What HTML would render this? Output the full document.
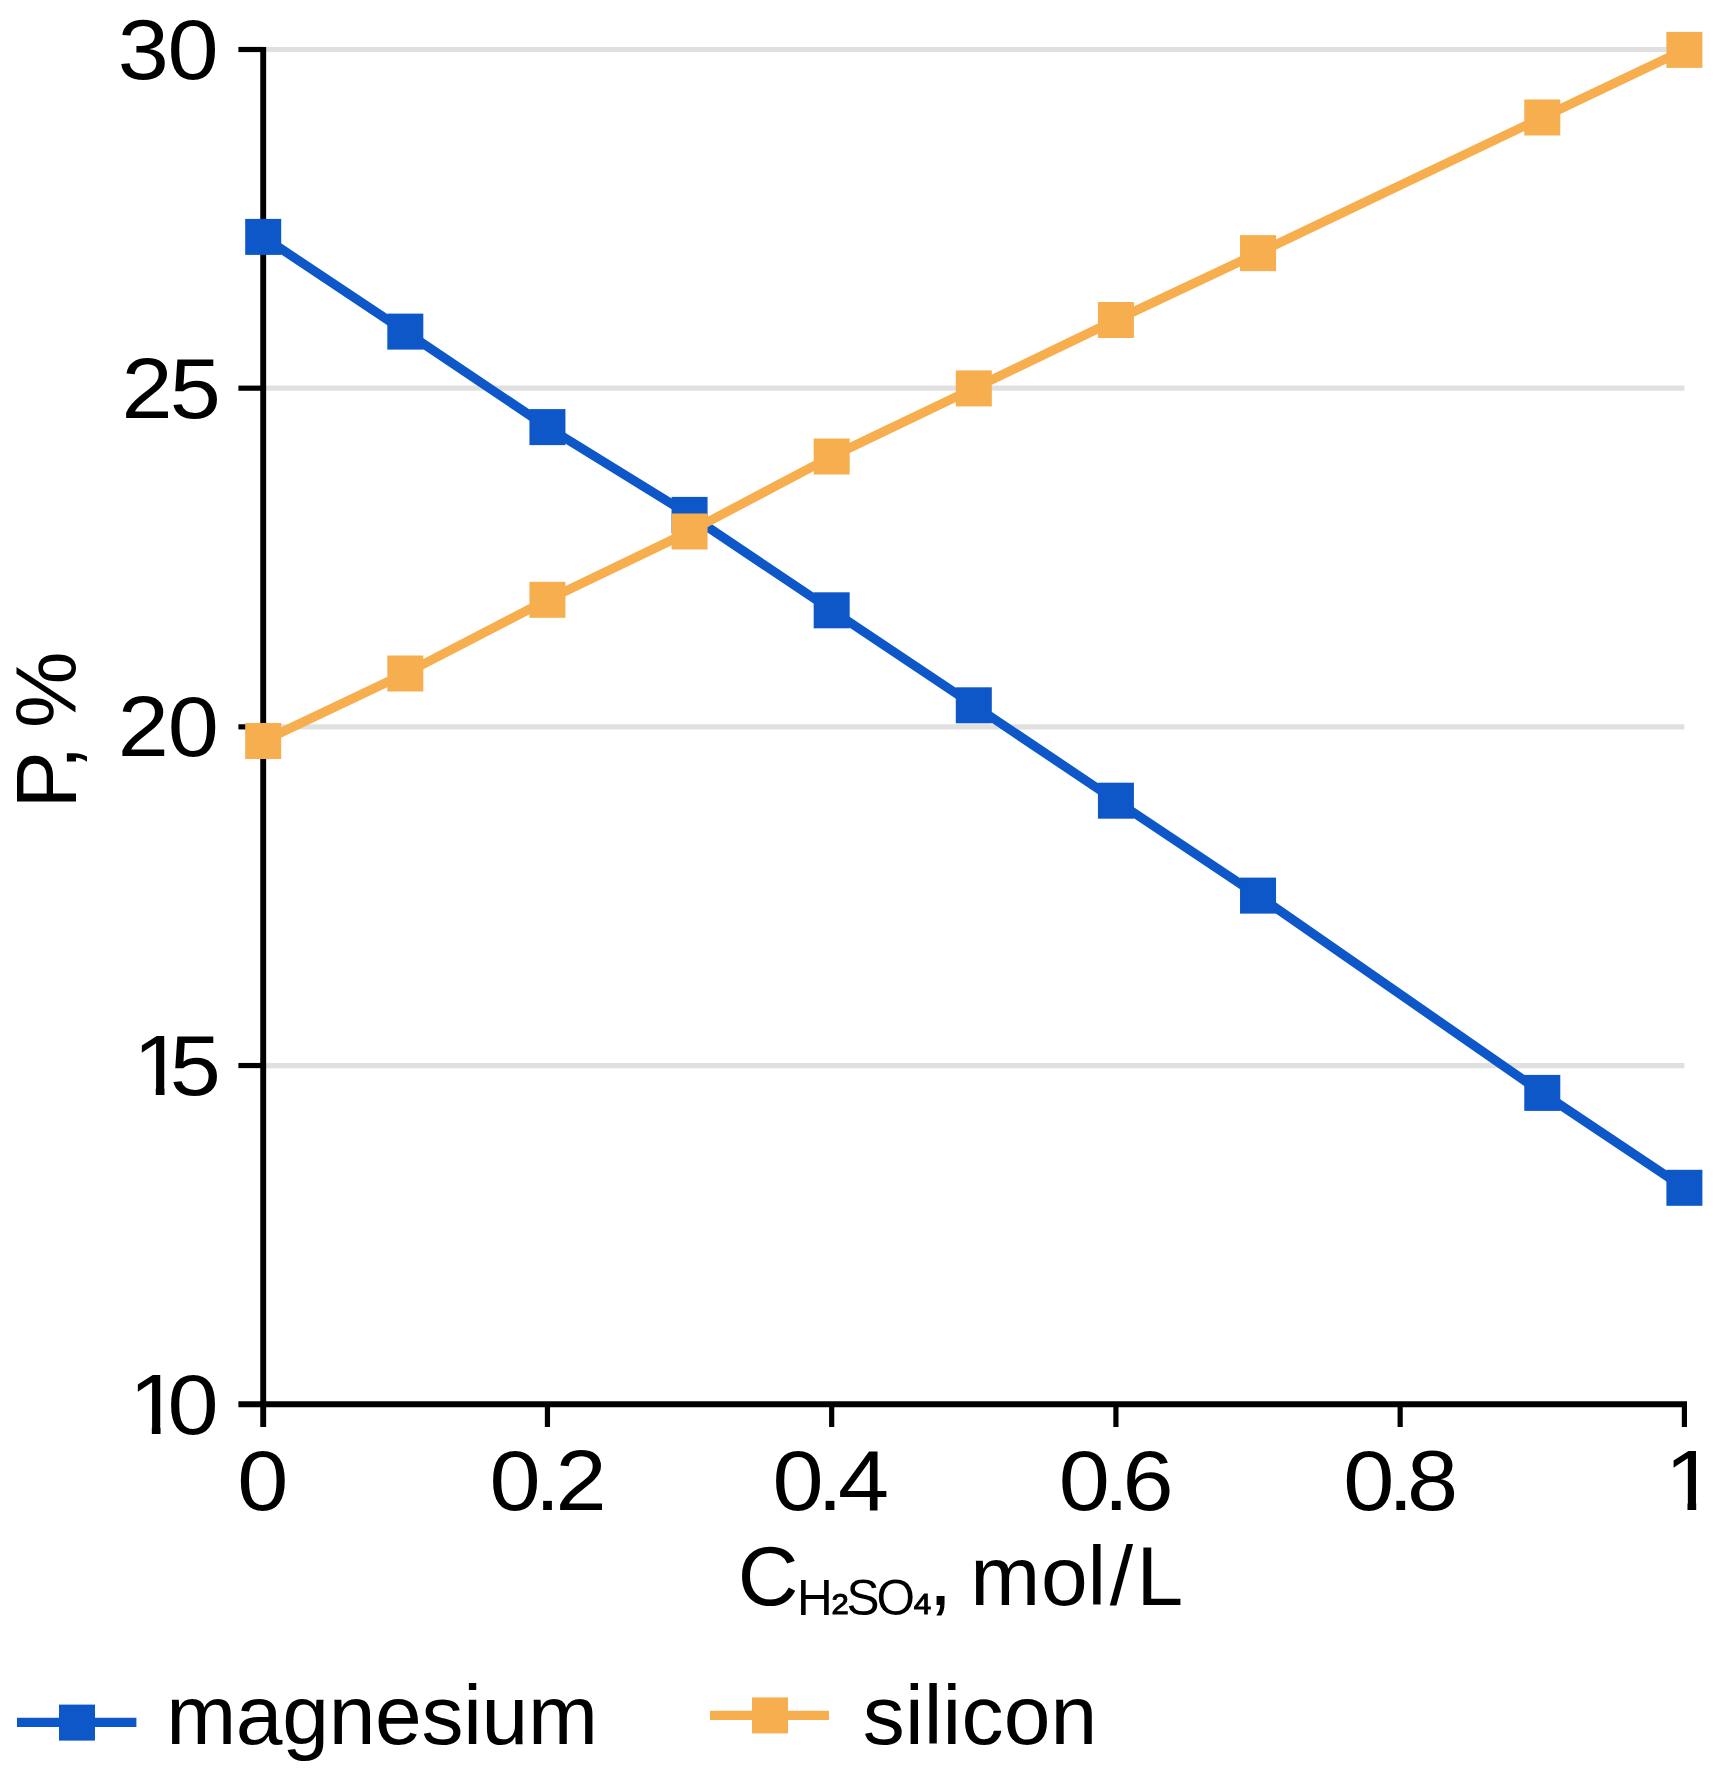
<!DOCTYPE html>
<html lang="en"><head><meta charset="utf-8"><title>P, % vs C H₂SO₄, mol/L</title>
<style>
html,body{margin:0;padding:0;background:#fff;}
body{width:1727px;height:1770px;overflow:hidden;}
svg{display:block;}
text{font-family:"Liberation Sans",Arial,Helvetica,sans-serif;fill:#000;}
</style></head><body>
<svg width="1727" height="1770" viewBox="0 0 1727 1770">
<rect width="1727" height="1770" fill="#fff"/>

<line x1="263.2" x2="1684.4" y1="49.50" y2="49.50" stroke="#e0e0e0" stroke-width="5.2"/>
<line x1="263.2" x2="1684.4" y1="388.18" y2="388.18" stroke="#e0e0e0" stroke-width="5.2"/>
<line x1="263.2" x2="1684.4" y1="726.85" y2="726.85" stroke="#e0e0e0" stroke-width="5.2"/>
<line x1="263.2" x2="1684.4" y1="1065.53" y2="1065.53" stroke="#e0e0e0" stroke-width="5.2"/>
<line x1="263.2" x2="263.2" y1="46.90" y2="1427" stroke="#000" stroke-width="5.9"/>
<line x1="238.4" x2="1687.00" y1="1404.2" y2="1404.2" stroke="#000" stroke-width="5.9"/>
<line x1="238.4" x2="263.2" y1="49.50" y2="49.50" stroke="#000" stroke-width="5.2"/>
<line x1="238.4" x2="263.2" y1="388.18" y2="388.18" stroke="#000" stroke-width="5.2"/>
<line x1="238.4" x2="263.2" y1="726.85" y2="726.85" stroke="#000" stroke-width="5.2"/>
<line x1="238.4" x2="263.2" y1="1065.53" y2="1065.53" stroke="#000" stroke-width="5.2"/>
<line x1="547.44" x2="547.44" y1="1404.2" y2="1427" stroke="#000" stroke-width="5.2"/>
<line x1="831.68" x2="831.68" y1="1404.2" y2="1427" stroke="#000" stroke-width="5.2"/>
<line x1="1115.92" x2="1115.92" y1="1404.2" y2="1427" stroke="#000" stroke-width="5.2"/>
<line x1="1400.16" x2="1400.16" y1="1404.2" y2="1427" stroke="#000" stroke-width="5.2"/>
<line x1="1684.40" x2="1684.40" y1="1404.2" y2="1427" stroke="#000" stroke-width="5.2"/>
<polyline points="263.2,236.9 405.3,331.6 547.4,427.1 689.6,514.9 831.7,610.3 973.8,705.3 1115.9,800.7 1258.0,895.6 1542.3,1092.9 1684.4,1187.8" fill="none" stroke="#0d57c9" stroke-width="9.2" stroke-linejoin="round"/>
<rect x="245.20" y="218.90" width="36.0" height="36.0" fill="#0d57c9"/>
<rect x="387.32" y="313.60" width="36.0" height="36.0" fill="#0d57c9"/>
<rect x="529.44" y="409.10" width="36.0" height="36.0" fill="#0d57c9"/>
<rect x="671.56" y="496.90" width="36.0" height="36.0" fill="#0d57c9"/>
<rect x="813.68" y="592.30" width="36.0" height="36.0" fill="#0d57c9"/>
<rect x="955.80" y="687.30" width="36.0" height="36.0" fill="#0d57c9"/>
<rect x="1097.92" y="782.70" width="36.0" height="36.0" fill="#0d57c9"/>
<rect x="1240.04" y="877.60" width="36.0" height="36.0" fill="#0d57c9"/>
<rect x="1524.28" y="1074.90" width="36.0" height="36.0" fill="#0d57c9"/>
<rect x="1666.40" y="1169.80" width="36.0" height="36.0" fill="#0d57c9"/>
<polyline points="263.2,741.0 405.3,673.5 547.4,599.8 689.6,531.5 831.7,456.5 973.8,388.4 1115.9,320.0 1258.0,253.1 1542.3,117.5 1684.4,49.9" fill="none" stroke="#f7ae4e" stroke-width="9.2" stroke-linejoin="round"/>
<rect x="245.20" y="723.00" width="36.0" height="36.0" fill="#f7ae4e"/>
<rect x="387.32" y="655.50" width="36.0" height="36.0" fill="#f7ae4e"/>
<rect x="529.44" y="581.80" width="36.0" height="36.0" fill="#f7ae4e"/>
<rect x="671.56" y="513.50" width="36.0" height="36.0" fill="#f7ae4e"/>
<rect x="813.68" y="438.50" width="36.0" height="36.0" fill="#f7ae4e"/>
<rect x="955.80" y="370.40" width="36.0" height="36.0" fill="#f7ae4e"/>
<rect x="1097.92" y="302.00" width="36.0" height="36.0" fill="#f7ae4e"/>
<rect x="1240.04" y="235.10" width="36.0" height="36.0" fill="#f7ae4e"/>
<rect x="1524.28" y="99.50" width="36.0" height="36.0" fill="#f7ae4e"/>
<rect x="1666.40" y="31.90" width="36.0" height="36.0" fill="#f7ae4e"/>
<text transform="scale(1.075,1)" x="109.50 155.90" y="78.9" font-size="85.5">30</text>
<text transform="scale(1.075,1)" x="112.97 157.84" y="417.6" font-size="85.5">25</text>
<text transform="scale(1.075,1)" x="109.53 155.99" y="756.2" font-size="85.5">20</text>
<clipPath id="c1"><rect x="140.24" y="1030.80" width="24.96" height="56.54"/><rect x="155.78" y="1086.84" width="8.72" height="9.09"/></clipPath>
<g clip-path="url(#c1)"><text transform="scale(1.075,1)" x="123.69 157.84" y="1094.9" font-size="85.5">15</text></g>
<text transform="scale(1.075,1)" x="157.84" y="1094.9" font-size="85.5">5</text>
<clipPath id="c2"><rect x="136.29" y="1369.48" width="24.96" height="56.54"/><rect x="151.83" y="1425.51" width="8.72" height="9.09"/></clipPath>
<g clip-path="url(#c2)"><text transform="scale(1.075,1)" x="120.01 155.85" y="1433.6" font-size="85.5">10</text></g>
<text transform="scale(1.075,1)" x="155.85" y="1433.6" font-size="85.5">0</text>
<text transform="scale(1.075,1)" x="220.78" y="1510.3" font-size="85.5">0</text>
<text transform="scale(1.075,1)" x="455.39 497.43 516.78" y="1510.3" font-size="85.5">0.2</text>
<text transform="scale(1.075,1)" x="718.64 760.36 779.61" y="1510.3" font-size="85.5">0.4</text>
<text transform="scale(1.075,1)" x="984.83 1026.49 1044.30" y="1510.3" font-size="85.5">0.6</text>
<text transform="scale(1.075,1)" x="1249.43 1291.15 1308.83" y="1510.3" font-size="85.5">0.8</text>
<clipPath id="c3"><rect x="1671.94" y="1446.17" width="24.96" height="56.54"/><rect x="1687.48" y="1502.21" width="8.72" height="9.09"/></clipPath>
<g clip-path="url(#c3)"><text transform="scale(1.075,1)" x="1548.52" y="1510.3" font-size="85.5">1</text></g>
<text transform="translate(75.9,800.6) rotate(-90)" x="-7.99 31.05 60.00 72.52" y="0" font-size="86">P, %</text>
<text><tspan x="737.84" y="1605.2" font-size="84">C</tspan><tspan x="797.01" y="1614.5" font-size="49.5">H</tspan><tspan x="830.49" y="1610.3" font-size="49.5" stroke="#000" stroke-width="1">₂</tspan><tspan x="846.55" y="1614.5" font-size="49.5">S</tspan><tspan x="876.56" y="1614.5" font-size="49.5">O</tspan><tspan x="911.91" y="1610.3" font-size="49.5" stroke="#000" stroke-width="1">₄</tspan><tspan x="928.73" y="1605.2" font-size="84">,</tspan><tspan x="955.00" y="1605.2" font-size="84"> </tspan><tspan x="970.34" y="1605.2" font-size="84">m</tspan><tspan x="1040.89" y="1605.2" font-size="84">o</tspan><tspan x="1087.50" y="1605.2" font-size="84">l</tspan><tspan x="1109.73" y="1605.2" font-size="84">/</tspan><tspan x="1136.54" y="1605.2" font-size="84">L</tspan></text>
<line x1="17" x2="136.4" y1="1722.3" y2="1722.3" stroke="#0d57c9" stroke-width="9.2"/>
<rect x="59" y="1704.6" width="36.0" height="36.0" fill="#0d57c9"/>
<text x="166.2" y="1743.6" font-size="84" letter-spacing="-0.3">magnesium</text>
<line x1="710" x2="829" y1="1715.3" y2="1715.3" stroke="#f7ae4e" stroke-width="9.2"/>
<rect x="752" y="1697.4" width="36.0" height="36.0" fill="#f7ae4e"/>
<text x="862.7" y="1743.6" font-size="84" letter-spacing="0.2">silicon</text>
</svg></body></html>
